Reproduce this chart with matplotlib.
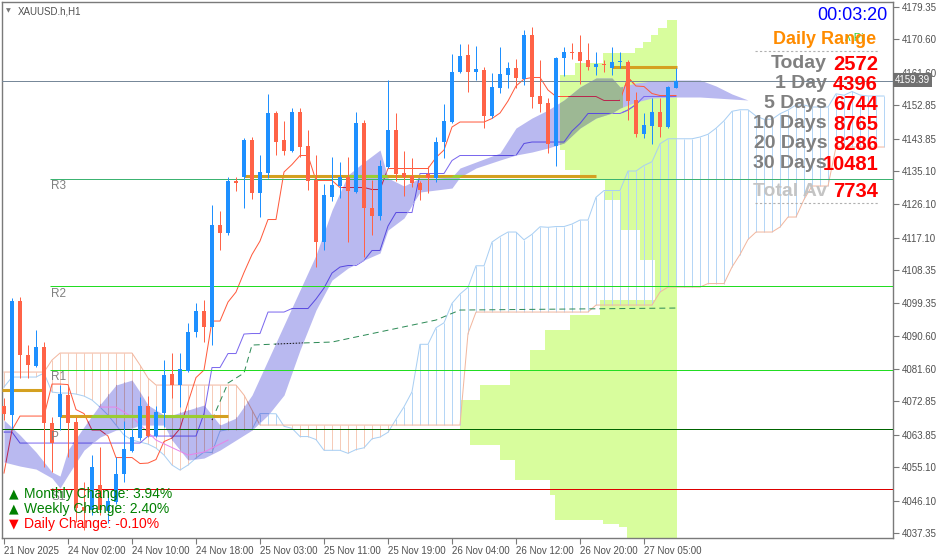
import matplotlib
matplotlib.use("Agg")
import matplotlib.pyplot as plt
from matplotlib.patches import Rectangle
from matplotlib.colors import to_rgb
import numpy as np

# ---------------- data ----------------
opens = [4071.62, 4069.19, 4099.97, 4085.39, 4082.42, 4087.55, 4067.03, 4068.65, 4074.59, 4067.30,
         4044.35, 4043.54, 4050.29, 4043.27, 4045.70, 4053.26, 4059.47, 4062.98, 4071.62, 4063.52,
         4069.73, 4080.26, 4077.29, 4081.07, 4091.60, 4097.27, 4092.95, 4120.49, 4118.33, 4132.37,
         4133.45, 4143.44, 4129.13, 4134.53, 4150.73, 4143.44, 4140.47, 4151.00, 4141.82, 4132.64,
         4115.90, 4128.05, 4131.02, 4133.45, 4129.40, 4148.03, 4125.08, 4122.92, 4136.15, 4146.14,
         4134.53, 4133.72, 4131.83, 4134.26, 4133.18, 4142.90, 4148.30, 4161.80, 4166.39, 4161.80,
         4162.34, 4149.92, 4157.48, 4160.99, 4162.88, 4159.91, 4171.79, 4155.32, 4153.43, 4141.82,
         4165.58, 4167.20, 4167.20, 4165.04, 4163.15, 4163.96, 4162.88, 4164.50, 4164.50, 4154.24,
         4145.06, 4147.22, 4151.00, 4146.95, 4157.48]
highs = [4073.78, 4100.78, 4101.05, 4088.09, 4092.14, 4088.90, 4068.65, 4077.29, 4077.29, 4068.65,
         4051.10, 4058.39, 4060.55, 4048.40, 4057.85, 4067.57, 4065.41, 4074.05, 4074.32, 4071.62,
         4084.04, 4085.93, 4085.93, 4094.03, 4099.43, 4100.24, 4125.89, 4124.27, 4133.45, 4133.45,
         4143.98, 4144.25, 4139.39, 4155.86, 4151.27, 4148.57, 4152.08, 4152.08, 4146.14, 4139.39,
         4131.56, 4138.85, 4137.50, 4138.85, 4151.00, 4148.84, 4132.64, 4138.04, 4159.64, 4150.73,
         4140.47, 4138.58, 4132.37, 4136.42, 4144.25, 4153.16, 4166.66, 4169.36, 4169.36, 4168.82,
         4163.15, 4161.53, 4168.55, 4164.50, 4165.31, 4173.14, 4173.95, 4165.04, 4154.78, 4165.85,
         4168.55, 4169.63, 4171.79, 4169.63, 4167.20, 4165.04, 4168.55, 4167.20, 4165.04, 4156.40,
         4150.73, 4154.78, 4154.78, 4158.02, 4162.88]
lows = [4067.84, 4065.68, 4079.18, 4079.18, 4082.15, 4055.15, 4053.80, 4065.14, 4057.85, 4040.30,
        4038.14, 4042.19, 4042.19, 4040.03, 4045.16, 4051.10, 4059.20, 4062.44, 4063.25, 4063.25,
        4065.95, 4073.78, 4071.35, 4080.80, 4090.25, 4088.90, 4088.09, 4113.74, 4117.79, 4129.67,
        4125.08, 4127.51, 4122.65, 4133.18, 4139.39, 4139.39, 4140.20, 4138.85, 4129.94, 4109.15,
        4113.74, 4126.97, 4127.78, 4115.90, 4129.13, 4111.85, 4117.79, 4121.84, 4135.88, 4132.37,
        4128.32, 4130.75, 4127.24, 4129.13, 4132.10, 4138.58, 4148.03, 4161.53, 4156.40, 4159.64,
        4146.68, 4149.38, 4156.13, 4157.48, 4157.48, 4158.29, 4152.08, 4151.00, 4139.93, 4136.42,
        4160.72, 4165.31, 4158.56, 4162.34, 4160.99, 4161.80, 4160.99, 4162.88, 4148.84, 4144.25,
        4143.98, 4142.36, 4144.25, 4146.68, 4157.48]
closes = [4069.46, 4099.97, 4085.39, 4082.69, 4087.55, 4067.03, 4061.63, 4074.86, 4067.03, 4044.08,
          4043.27, 4055.15, 4043.54, 4045.97, 4053.26, 4060.01, 4063.25, 4071.62, 4063.52, 4070.00,
          4079.99, 4077.29, 4081.61, 4091.60, 4097.27, 4092.95, 4120.49, 4118.33, 4132.37, 4131.83,
          4143.44, 4129.13, 4134.80, 4150.73, 4142.90, 4140.47, 4151.00, 4141.55, 4132.37, 4115.90,
          4128.59, 4131.29, 4133.45, 4129.67, 4148.03, 4125.08, 4122.92, 4136.42, 4146.14, 4134.26,
          4133.45, 4131.83, 4129.94, 4133.18, 4142.90, 4148.57, 4161.80, 4166.12, 4161.80, 4162.61,
          4149.92, 4157.75, 4161.26, 4162.88, 4160.18, 4171.79, 4155.05, 4153.16, 4142.36, 4165.58,
          4167.20, 4166.93, 4164.77, 4163.15, 4163.96, 4163.69, 4164.50, 4164.77, 4153.97, 4145.06,
          4147.49, 4151.00, 4146.95, 4157.75, 4159.39]

tenkan = ([4053.53, 4065.14] + [4068.92] * 4 + [4077.56] * 2 + [4077.42, 4070.67, 4069.59]
          + [4065.14] * 2 + [4063.52] + [4057.72] * 3 + [4056.10, 4056.23, 4057.18, 4062.04, 4062.98,
          4065.55, 4072.57, 4079.31, 4081.34] + [4094.57] * 2 + [4099.70, 4102.40, 4107.67, 4112.53,
          4116.17] + [4121.98] * 2 + [4134.80, 4136.83] + [4139.26] * 2 + [4132.51] * 3 + [4130.62] * 4
          + [4130.08] * 2 + [4135.75] * 6 + [4138.72, 4140.74, 4146.95] + [4148.30] * 4
          + [4149.25, 4150.73, 4153.97, 4158.02, 4159.91] + [4160.32] * 2 + [4156.94] + [4155.19] * 6
          + [4154.11] * 3 + [4160.32, 4158.02, 4157.88, 4155.99] + [4155.45] * 3)
kijun = ([4064.60] * 2 + [4061.63] * 16 + [4063.52] * 7 + [4069.59] + [4082.02] * 2 + [4085.80] * 2
         + [4091.06] + [4091.20] * 2 + [4097.00] * 3 + [4097.95] * 3 + [4100.51, 4103.48, 4107.53, 4109.15]
         + [4109.56] * 2 + [4110.91] + [4113.62] * 2 + [4120.22] + [4123.87] * 3 + [4134.40] * 4
         + [4137.91] + [4139.26] * 8 + [4142.50] + [4142.90] * 5 + [4145.87, 4147.90] + [4150.60] * 5
         + [4151.54, 4153.03] + [4155.19] * 5)

# hatched kumo (span A / span B), one value per bar incl. 26 future bars
span_a = [4076.75, 4079.45, 4079.45, 4079.45, 4079.45, 4080.53, 4075.40, 4075.13, 4075.13, 4074.86,
          4074.32, 4073.24, 4071.35, 4069.19, 4066.49, 4063.79, 4062.44, 4061.90, 4061.36, 4060.28,
          4058.39, 4055.69, 4054.34, 4055.69, 4057.58, 4059.20, 4059.07, 4064.87, 4065.28, 4065.28,
          4065.28, 4065.28, 4069.59, 4069.59, 4069.53, 4066.15, 4065.61, 4063.39, 4063.39, 4062.58,
          4059.67, 4059.67, 4059.67, 4058.86, 4059.88, 4060.35, 4062.78, 4063.25, 4064.53, 4068.04,
          4071.42, 4075.47, 4088.29, 4088.29, 4092.75, 4094.10, 4099.36, 4101.86, 4103.68, 4109.49,
          4109.49, 4115.90, 4117.38, 4118.60, 4118.60, 4116.51, 4117.99, 4120.02, 4119.88, 4120.08,
          4120.08, 4120.76, 4121.84, 4121.84, 4127.98, 4129.81, 4129.81, 4129.81, 4135.07, 4135.07,
          4136.56, 4137.57, 4142.43, 4143.78, 4143.78, 4143.78, 4143.78, 4144.25, 4144.99, 4146.62,
          4148.64, 4151.20, 4151.61, 4151.61, 4149.92, 4149.04, 4149.04, 4150.53, 4151.54, 4152.89,
          4152.89, 4152.35, 4152.35, 4152.35, 4155.93, 4155.52, 4156.54, 4155.59, 4155.32, 4155.32,
          4155.32]
span_b = ([4080.80] * 6 + [4084.04] + [4085.93] * 10 + [4082.69, 4079.18] + [4077.29] * 11
          + [4074.59, 4070.54] + [4066.49] * 26 + [4091.20] + [4097.00] * 15 + [4098.89] * 8
          + [4102.40] + [4103.75] * 5 + [4104.69] * 3 + [4109.15, 4112.53, 4116.59] + [4118.60] * 3
          + [4119.95] + [4122.65] * 2 + [4127.39] + [4131.02] * 3 + [4141.55] * 7)

# lavender cloud (bar index, upper, lower)
lav_idx = [0, 2, 4, 6, 7, 8, 10, 12, 14, 16, 17, 18, 20, 21, 23, 25, 27, 29, 31, 33,
           35, 37, 39, 41, 43, 45, 47, 48, 50, 52, 54, 56, 57, 59, 62, 64, 66, 68, 70, 72,
           74, 76, 77, 79, 81, 84, 87, 89, 91, 93]
lav_top = [4067.84, 4063.79, 4059.20, 4053.80, 4052.72, 4059.74, 4066.00, 4072.00, 4077.29, 4078.64,
           4075.40, 4071.89, 4069.19, 4069.19, 4070.54, 4071.89, 4066.49, 4068.38, 4074.59, 4084.04,
           4093.49, 4102.94, 4112.39, 4124.54, 4133.99, 4137.50, 4140.74, 4133.18, 4131.02, 4133.18,
           4133.18, 4133.45, 4135.88, 4137.50, 4139.93, 4146.68, 4149.38, 4151.54, 4154.24, 4157.75,
           4160.18, 4160.18, 4157.75, 4158.83, 4159.37, 4159.64, 4159.64, 4158.02, 4155.86, 4154.24]
lav_bot = [4056.50, 4055.42, 4054.61, 4052.18, 4049.48, 4052.99, 4059.74, 4063.25, 4065.14, 4065.68,
           4066.49, 4066.49, 4066.49, 4062.44, 4057.04, 4057.58, 4059.74, 4062.44, 4065.14, 4069.19,
           4074.59, 4086.74, 4097.54, 4105.64, 4108.88, 4111.04, 4112.93, 4119.14, 4122.38, 4129.40,
           4129.94, 4130.48, 4133.45, 4135.88, 4138.04, 4139.39, 4140.20, 4141.28, 4142.63, 4146.68,
           4149.38, 4150.73, 4152.08, 4153.70, 4154.78, 4155.05, 4155.05, 4154.78, 4154.51, 4154.24]

# violet line inside the left part of the cloud
vio_idx = [12, 14, 16, 19, 23, 25, 28]
vio_val = [4071.35, 4071.35, 4068.65, 4062.44, 4058.39, 4059.20, 4062.44]

# dashed green line
grn_idx = [26, 28, 30, 31, 37, 41, 54, 57, 84]
grn_val = [4067.84, 4077.83, 4080.53, 4088.09, 4088.63, 4088.90, 4094.84, 4097.54, 4098.08]

# volume profile bands (lower price, upper price, length in bars from the right edge)
vp_lo = [4173.68, 4171.79, 4169.90, 4168.28, 4166.93, 4164.23, 4160.99, 4140.74, 4135.34, 4132.64,
         4127.24, 4119.14, 4111.04, 4105.64, 4100.24, 4096.19, 4092.14, 4086.74, 4081.34, 4077.29,
         4073.24, 4065.14, 4061.09, 4057.04, 4051.64, 4047.59, 4040.84, 4039.76, 4038.95, 4036.00]
vp_hi = [4175.84, 4173.68, 4171.79, 4169.90, 4168.28, 4166.93, 4164.23, 4160.99, 4140.74, 4135.34,
         4132.64, 4127.24, 4119.14, 4111.04, 4105.64, 4100.24, 4096.19, 4092.14, 4086.74, 4081.34,
         4077.29, 4073.24, 4065.14, 4061.09, 4057.04, 4051.64, 4047.59, 4040.84, 4039.76, 4038.95]
vp_len = [1.25, 2.4, 3.25, 4.25, 5.25, 9.25, 12.75, 14.6, 14.0, 12.1,
          9.0, 7.1, 4.6, 2.75, 2.75, 9.6, 13.4, 16.5, 18.4, 20.9,
          24.6, 27.1, 25.9, 22.1, 20.25, 15.9, 15.25, 9.25, 7.25, 6.25]

pivot_names = ["R3", "R2", "R1", "P", "S1"]
pivot_vals = [4132.91, 4104.02, 4081.34, 4065.41, 4049.21]
pivot_cols = ["#3cb371", "#22dd22", "#22dd22", "#006400", "#dd0000"]

gold_lvl = [4076.08, 4068.92, 4133.72, 4163.02]
gold_x0 = [-0.2, 7, 30, 76]
gold_x1 = [4.75, 28, 74, 84.1]

last_price = 4159.39
yticks = [4179.35, 4170.60, 4161.60, 4152.85, 4143.85, 4135.10, 4126.10, 4117.10, 4108.35,
          4099.35, 4090.60, 4081.60, 4072.85, 4063.85, 4055.10, 4046.10, 4037.35]
xtick_pos = [0, 8, 16, 24, 32, 40, 48, 56, 64, 72, 80]
xtick_lab = ["21 Nov 2025", "24 Nov 02:00", "24 Nov 10:00", "24 Nov 18:00", "25 Nov 03:00",
             "25 Nov 11:00", "25 Nov 19:00", "26 Nov 04:00", "26 Nov 12:00", "26 Nov 20:00",
             "27 Nov 05:00"]

range_names = ["Today", "1 Day", "5 Days", "10 Days", "20 Days", "30 Days", "Total Av"]
range_vals = ["2572", "4396", "6744", "8765", "8286", "10481", "7734"]
change_names = ["Monthly Change: 3.94%", "Weekly Change: 2.40%", "Daily Change: -0.10%"]
change_up = [True, True, False]

# ---------------- drawing ----------------
W, H = 939, 558
fig = plt.figure(figsize=(W / 100, H / 100), dpi=100)
ax = fig.add_axes([2 / W, 20 / H, 891 / W, 536 / H])
ax.set_xlim(-0.25, 111.125)
ax.set_ylim(4036.0, 4180.7)
PX = 0.72  # one pixel in points

n = len(opens)
x = np.arange(n)
right_edge = n - 1 + 0.1
BLEND_END = 77.3   # the cloud is see-through up to this bar

VP_COL = "#d8fd9d"
LAV_COL = "#b9b9f0"
BLUE_H = "#b5d6f6"
PEACH_H = "#f6cbb8"
A_COL = "#a9cff3"
B_COL = "#f2b79f"
TEN_COL = "#ff5a3c"
KIJ_COL = "#7b68ee"
GRN_COL = "#2e8b57"


def mult(c1, c2):
    a = np.array(to_rgb(c1)); b = np.array(to_rgb(c2))
    return tuple(a * b)


# volume profile
for lo, hi, ln in zip(vp_lo, vp_hi, vp_len):
    ax.add_patch(Rectangle((right_edge - ln, lo), ln, hi - lo, facecolor=VP_COL,
                           edgecolor="none", zorder=1))

# hatched kumo + indicator lines (below the lavender cloud)
ja = np.arange(len(span_a))
sa = np.array(span_a)
sb = np.array(span_b)
hcols = [BLUE_H if a >= b else PEACH_H for a, b in zip(sa, sb)]
ax.vlines(ja, np.minimum(sa, sb), np.maximum(sa, sb), colors=hcols, lw=PX, zorder=2)
ax.plot(ja, sa, color=A_COL, lw=PX, zorder=2.1)
ax.plot(ja, sb, color=B_COL, lw=PX, zorder=2.1)
ax.plot(np.arange(len(kijun)), kijun, color=KIJ_COL, lw=PX, zorder=2.3)
ax.plot(np.arange(len(tenkan)), tenkan, color=TEN_COL, lw=PX, zorder=2.3)
ax.plot(grn_idx, grn_val, color=GRN_COL, lw=PX, ls=(0, (6, 4)), zorder=2.3)

# lavender cloud
cloud = ax.fill_between(lav_idx, lav_bot, lav_top, color=LAV_COL, lw=0, zorder=3)
cpath = cloud.get_paths()[0]
lav_idx_a = np.array(lav_idx)
part = ax.fill_between(lav_idx, lav_bot, lav_top, where=lav_idx_a <= BLEND_END,
                       color="none", lw=0, zorder=0)
ppath = part.get_paths()[0]

# overlap of cloud and volume profile
for lo, hi, ln in zip(vp_lo, vp_hi, vp_len):
    x0 = right_edge - ln
    if x0 >= BLEND_END:
        continue
    poly = ax.fill_between(lav_idx, lav_bot, lav_top, color=mult(VP_COL, LAV_COL), lw=0, zorder=3.1)
    poly.set_clip_path(Rectangle((x0, lo), BLEND_END - x0, hi - lo, transform=ax.transData))

# the lines seen through the cloud (multiplied colours)
inside = []
inside.append(ax.vlines(ja, np.minimum(sa, sb), np.maximum(sa, sb),
                        colors=[mult(cc, LAV_COL) for cc in hcols], lw=PX, zorder=3.2))
inside += ax.plot(ja, sa, color=mult(A_COL, LAV_COL), lw=PX, zorder=3.3)
inside += ax.plot(ja, sb, color=mult(B_COL, LAV_COL), lw=PX, zorder=3.3)
inside += ax.plot(np.arange(len(kijun)), kijun, color=mult(KIJ_COL, LAV_COL), lw=PX, zorder=3.4)
inside += ax.plot(np.arange(len(tenkan)), tenkan, color="#b8284e", lw=PX, zorder=3.4)
inside += ax.plot(grn_idx, grn_val, color="#111111", lw=PX, ls=(0, (1.5, 1.5)), zorder=3.4)
for art in inside:
    art.set_clip_path(ppath, ax.transData)
# lines drawn over the opaque (future) part of the cloud
over = []
over += ax.plot(np.arange(len(kijun)), kijun, color=KIJ_COL, lw=PX, zorder=3.4)
over += ax.plot(np.arange(len(tenkan)), tenkan, color=TEN_COL, lw=PX, zorder=3.4)
for art in over:
    art.set_clip_path(Rectangle((BLEND_END, 4036), 40, 150, transform=ax.transData))
ax.plot(vio_idx, vio_val, color="#e884e8", lw=PX, zorder=3.5)

# pivot lines
for nm, v, c in zip(pivot_names, pivot_vals, pivot_cols):
    x0 = -0.25 if nm == "P" else 5.8
    ax.hlines(v, x0, 111.2, colors=c, lw=PX, zorder=4)

# current price line
ax.axhline(last_price, color="#778899", lw=PX, zorder=4)

# gold levels (yellow-green where they cross the cloud)
ax.hlines(gold_lvl, gold_x0, gold_x1, colors="#d4a020", lw=2.2, zorder=4.2)
lime = ax.hlines(gold_lvl, gold_x0, gold_x1, colors="#9acd32", lw=2.2, zorder=4.3)
lime.set_clip_path(cpath, ax.transData)

# candles
o = np.array(opens); c = np.array(closes); h = np.array(highs); l = np.array(lows)
up = c >= o
ccol = np.where(up, "#1e90ff", "#ff6347")
ax.vlines(x, l, h, colors=ccol, lw=PX, zorder=6)
body_lo = np.minimum(o, c)
body_h = np.maximum(np.abs(c - o), 0.28)
ax.bar(x, body_h, bottom=body_lo, width=0.62, color=ccol, lw=0, zorder=7)

# axes styling
for s in ax.spines.values():
    s.set_color("#7a7a7a")
    s.set_linewidth(1.0)
ax.yaxis.tick_right()
ax.set_yticks(yticks)
ax.set_yticklabels([f"{v:.2f}" for v in yticks])
ax.set_xticks(xtick_pos)
ax.set_xticklabels(xtick_lab)
ax.tick_params(axis="both", colors="#7a7a7a", labelcolor="#505050", length=4, width=0.8,
               labelsize=7, pad=2)
for t in ax.get_xticklabels():
    t.set_ha("left")
    t.set_fontfamily("Liberation Sans")
for t in ax.get_yticklabels():
    t.set_fontfamily("Liberation Sans")

# ---------------- texts (pixel positions) ----------------
def ftext(px, py, s, **kw):
    return fig.text(px / W, 1 - py / H, s, **kw)

ftext(895, 80, f"{last_price:.2f}", color="white", fontsize=7, family="Liberation Sans",
      va="center", ha="left",
      bbox=dict(boxstyle="square,pad=0.18", fc="#707070", ec="none"))

ftext(6, 11, "\u25bc", color="#777777", fontsize=4.5, va="center")
ftext(18, 11, "XAUUSD.h,H1", color="#505050", fontsize=7, family="Liberation Sans", va="center")

label_y = [186, 294, 377, 437, 497]
for nm, yy in zip(pivot_names, label_y):
    ftext(51, yy, nm, color="#808080", fontsize=8.5, family="Liberation Sans", va="center")

ftext(887, 15, "00:03:20", color="#0000ff", fontsize=13, family="Liberation Sans",
      ha="right", va="center")
ftext(845, 38, "\u028c Pi", color="#33cc33", fontsize=8, family="Liberation Sans",
      va="center", zorder=1)
ftext(876, 39, "Daily Range", color="#ff8c00", fontsize=13, fontweight="bold",
      family="Liberation Sans", ha="right", va="center", zorder=2)
fig.lines.append(plt.Line2D([755 / W, 878 / W], [1 - 51 / H, 1 - 51 / H], color="#b0b0b0",
                            lw=0.8, ls=(0, (2, 2)), transform=fig.transFigure))
fig.lines.append(plt.Line2D([755 / W, 878 / W], [1 - 203 / H, 1 - 203 / H], color="#b0b0b0",
                            lw=0.8, ls=(0, (2, 2)), transform=fig.transFigure))
row_y = [64, 84, 104, 124, 144, 164, 191]
for i, (nm, v, yy) in enumerate(zip(range_names, range_vals, row_y)):
    col = "#c4c4c4" if i == len(range_names) - 1 else "#808080"
    ftext(827, yy, nm, color=col, fontsize=14, fontweight="bold", family="Liberation Sans",
          ha="right", va="center")
    ftext(878, yy, v, color="#ff0000", fontsize=14.5, fontweight="bold", family="Liberation Sans",
          ha="right", va="center")

for k, (s, upk) in enumerate(zip(change_names, change_up)):
    yy = 494 + 15 * k
    col = "#008000" if upk else "#ff0000"
    ftext(9, yy, "\u25b2" if upk else "\u25bc", color=col, fontsize=9, va="center")
    ftext(24, yy, s, color=col, fontsize=10, family="Liberation Sans", va="center")

fig.savefig("out.png", dpi=100, facecolor="white")
